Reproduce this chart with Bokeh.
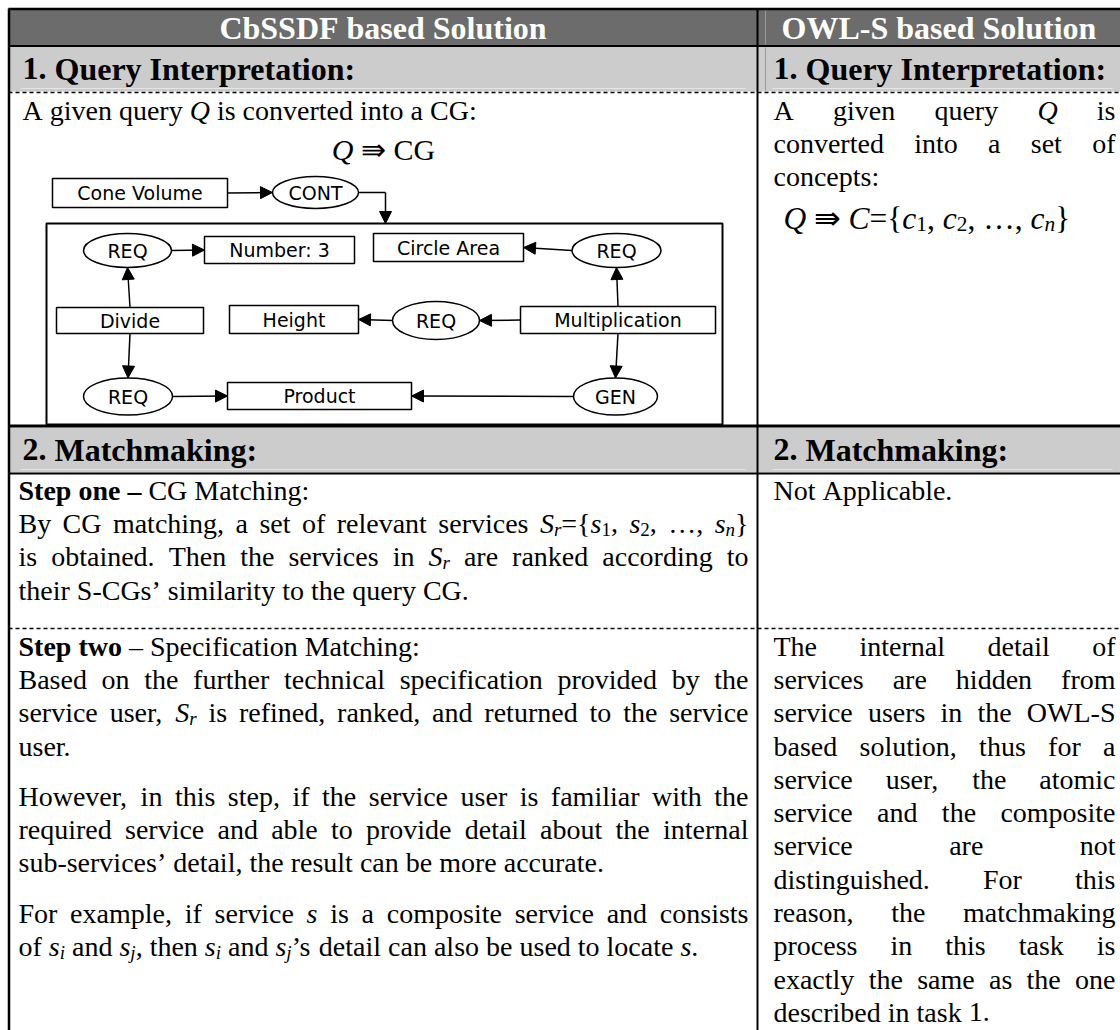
import re
from bokeh.plotting import figure
from bokeh.models import Range1d, ColumnDataSource, Arrow, NormalHead
from bokeh.core.properties import value
from bokeh.embed import file_html
from bokeh.resources import INLINE

# ---------------- content ----------------
COLUMN_TITLES = ["CbSSDF based Solution", "OWL-S based Solution"]
SECTION_TITLES = ["1. Query Interpretation:", "2. Matchmaking:"]

QUERY_LEFT = [("A given query <i>Q</i> is converted into a CG:", False)]
QUERY_LEFT_EQ = "<i>Q</i> ⇛ CG"
QUERY_RIGHT = [("A given query <i>Q</i> is", True),
               ("converted into a set of", True),
               ("concepts:", False)]
QUERY_RIGHT_EQ = "<i>Q</i> ⇛ <i>C</i>={<i>c</i><s>1</s>, <i>c</i><s>2</s>, …, <i>c</i><is>n</is>}"

STEP_ONE = [("<b>Step one –</b> CG Matching:", False),
            ("By CG matching, a set of relevant services <i>S</i><is>r</is>={<i>s</i><s>1</s>, <i>s</i><s>2</s>, …, <i>s</i><is>n</is>}", True),
            ("is obtained. Then the services in <i>S</i><is>r</is> are ranked according to", True),
            ("their S-CGs’ similarity to the query CG.", False)]
STEP_ONE_RIGHT = [("Not Applicable.", False)]

STEP_TWO = [("<b>Step two</b> – Specification Matching:", False),
            ("Based on the further technical specification provided by the", True),
            ("service user, <i>S</i><is>r</is> is refined, ranked, and returned to the service", True),
            ("user.", False),
            None,
            ("However, in this step, if the service user is familiar with the", True),
            ("required service and able to provide detail about the internal", True),
            ("sub-services’ detail, the result can be more accurate.", False),
            None,
            ("For example, if service <i>s</i> is a composite service and consists", True),
            ("of <i>s</i><is>i</is> and <i>s</i><is>j</is>, then <i>s</i><is>i</is> and <i>s</i><is>j</is>’s detail can also be used to locate <i>s</i>.", False)]
STEP_TWO_RIGHT = [("The internal detail of", True),
                  ("services are hidden from", True),
                  ("service users in the OWL-S", True),
                  ("based solution, thus for a", True),
                  ("service user, the atomic", True),
                  ("service and the composite", True),
                  ("service are not", True),
                  ("distinguished. For this", True),
                  ("reason, the matchmaking", True),
                  ("process in this task is", True),
                  ("exactly the same as the one", True),
                  ("described in task 1.", False)]

# conceptual graph
BOX_LABELS = ["Cone Volume", "Number: 3", "Circle Area", "Divide", "Height", "Multiplication", "Product"]
OVAL_LABELS = ["CONT", "REQ", "REQ", "REQ", "REQ", "GEN"]
EDGES = [("B0", "E0"), ("E1", "B1"), ("E2", "B2"), ("B3", "E1"), ("B5", "E2"),
         ("B5", "E3"), ("E3", "B4"), ("B3", "E4"), ("B5", "E5"), ("E4", "B6"), ("E5", "B6")]

# ---------------- layout (pixel geometry) ----------------
BOX_GEOM = [(139.5, 192.5, 175, 29), (279, 249.5, 150, 27), (448, 247, 150, 28),
            (129.5, 320, 147, 26), (293.5, 319, 129, 28), (617.5, 319.5, 195, 27),
            (319, 395.5, 184, 27)]
OVAL_GEOM = [(315, 192, 86, 32), (127, 250, 88, 34), (616, 250, 89, 34),
             (435.5, 320, 87, 38), (127.5, 396, 89, 37), (615, 396, 84, 37)]

# Times metrics (1/1000 em)
REG = {' ': 250, ',': 250, '-': 333, '.': 250, ':': 278, '=': 564, '{': 480, '}': 480,
       '’': 333, '–': 500, '…': 1000, '⇛': 838, '1': 500, '2': 500, '3': 500,
       'A': 722, 'B': 667, 'C': 667, 'D': 722, 'F': 556, 'G': 722, 'H': 722, 'L': 611,
       'N': 722, 'O': 722, 'Q': 722, 'S': 556, 'T': 611, 'W': 944,
       'a': 444, 'b': 500, 'c': 444, 'd': 500, 'e': 444, 'f': 333, 'g': 500, 'h': 500,
       'i': 278, 'j': 278, 'k': 500, 'l': 278, 'm': 778, 'n': 500, 'o': 500, 'p': 500,
       'q': 500, 'r': 333, 's': 389, 't': 278, 'u': 500, 'v': 500, 'w': 722, 'x': 500,
       'y': 500, 'z': 444}
BOLD = {' ': 250, '.': 250, ':': 333, '-': 333, '–': 500, '1': 500, '2': 500,
        'C': 722, 'D': 722, 'F': 611, 'I': 389, 'L': 667, 'M': 944, 'O': 778, 'Q': 778,
        'S': 556, 'W': 1000, 'a': 500, 'b': 556, 'c': 444, 'd': 556, 'e': 444, 'g': 500,
        'h': 556, 'i': 278, 'k': 556, 'l': 278, 'm': 833, 'n': 556, 'o': 500, 'p': 556,
        'r': 444, 's': 389, 't': 333, 'u': 556, 'w': 722, 'y': 500}
ITAL = {'Q': 722, 'S': 500, 'C': 667, 's': 389, 'c': 444, 'n': 500, 'i': 278, 'j': 278, 'r': 389}

SERIF = "Liberation Serif"
BODY = 28
HEAD = 32
EQ = 30
EQ_R = 31.5
LH = 33.3
GAP = 17
BASE_SHIFT = 0.3   # empirical: rendered baseline sits this fraction of size below y

TAG = re.compile(r"<(is|i|b|s)>(.*?)</\1>")


def parse(markup):
    runs, pos = [], 0
    for m in TAG.finditer(markup):
        if m.start() > pos:
            runs.append((markup[pos:m.start()], 'r'))
        runs.append((m.group(2), m.group(1)))
        pos = m.end()
    if pos < len(markup):
        runs.append((markup[pos:], 'r'))
    items = []
    for text, st in runs:
        for part in re.split(r"( )", text):
            if part:
                items.append((part, st))
    return items


def width(text, st, size):
    if st == 'b':
        tab = BOLD
    elif st in ('i', 'is'):
        tab = ITAL
    else:
        tab = REG
    scale = 0.68 if st in ('s', 'is') else 1.0
    return sum(tab.get(ch, REG.get(ch, 500)) for ch in text) * size * scale / 1000.0


T = dict(x=[], y=[], text=[], fs=[], fst=[], col=[])


def put_line(markup, x, y, size, color="black", justify_to=None, center=False, bold=False):
    items = parse(markup)
    if bold:
        items = [(t, 'b') for t, _ in items]
    ws = [width(t, st, size) for t, st in items]
    natural = sum(ws)
    nsp = sum(1 for t, _ in items if t == " ")
    extra = (justify_to - natural) / nsp if (justify_to and nsp) else 0.0
    if center:
        x = x - natural / 2
    y = y - BASE_SHIFT * size
    for (t, st), w in zip(items, ws):
        if t == " ":
            x += w + extra
            continue
        sub = st in ('s', 'is')
        T['x'].append(x)
        T['y'].append(y + (size * 0.2 if sub else 0))
        T['text'].append(t)
        T['fs'].append("%.1fpx" % (size * 0.68 if sub else size))
        T['fst'].append({'r': 'normal', 's': 'normal', 'i': 'italic', 'is': 'italic', 'b': 'bold'}[st])
        T['col'].append(color)
        x += w


def put_block(lines, xl, xr, y0, size, lh, gap):
    y = y0
    for ln in lines:
        if ln is None:
            y += gap
            continue
        markup, just = ln
        put_line(markup, xl, y, size, justify_to=(xr - xl) if just else None)
        y += lh


# ---------------- figure ----------------
p = figure(width=1120, height=1030, x_range=Range1d(0, 1120), y_range=Range1d(1030, 0),
           toolbar_location=None, output_backend="svg", min_border=0,
           x_axis_location=None, y_axis_location=None)
p.xgrid.visible = False
p.ygrid.visible = False
p.outline_line_color = None
p.background_fill_color = "white"
p.border_fill_color = "white"

# cell shading
p.quad(left=[9, 9, 9], right=[1120, 1120, 1120], top=[9, 46, 427], bottom=[45, 91, 472],
       fill_color=["#6c6c6c", "#cccccc", "#cccccc"], line_color=None)
p.segment(x0=[20, 772, 20, 772], y0=[88, 88, 469, 469], x1=[745, 1112, 745, 1112], y1=[88, 88, 469, 469],
          line_color="#e4e4e4", line_width=1)
p.segment(x0=[765, 765], y0=[10, 47], x1=[765, 765], y1=[44, 90], line_color="#9a9a9a", line_width=1)

# conceptual graph
nodes = {}
for i, (cx, cy, w, h) in enumerate(BOX_GEOM):
    nodes["B%d" % i] = (cx, cy, w, h)
for i, (cx, cy, w, h) in enumerate(OVAL_GEOM):
    nodes["E%d" % i] = (cx, cy, w, h)

p.quad(left=[46], right=[722], top=[223], bottom=[424], fill_color=None, line_color="black", line_width=2)

# connector CONT -> big box
cx, cy, w, h = OVAL_GEOM[0]
p.line(x=[cx + w / 2, 385], y=[cy, cy], line_color="black", line_width=1.5)

ax0, ay0, ax1, ay1 = [385], [cy], [385], [223]
for a, b in EDGES:
    A, B = nodes[a], nodes[b]
    if abs(B[0] - A[0]) > abs(B[1] - A[1]):
        s = 1 if B[0] > A[0] else -1
        ax0.append(A[0] + s * A[2] / 2); ay0.append(A[1])
        ax1.append(B[0] - s * B[2] / 2); ay1.append(B[1])
    else:
        s = 1 if B[1] > A[1] else -1
        ax0.append(A[0]); ay0.append(A[1] + s * A[3] / 2)
        ax1.append(B[0]); ay1.append(B[1] - s * B[3] / 2)
asrc = ColumnDataSource(dict(x0=ax0, y0=ay0, x1=ax1, y1=ay1))
p.add_layout(Arrow(end=NormalHead(size=12, fill_color="black", line_color="black"),
                   x_start="x0", y_start="y0", x_end="x1", y_end="y1",
                   source=asrc, line_color="black", line_width=1.5))

bsrc = ColumnDataSource(dict(
    l=[g[0] - g[2] / 2 for g in BOX_GEOM], r=[g[0] + g[2] / 2 for g in BOX_GEOM],
    t=[g[1] - g[3] / 2 for g in BOX_GEOM], b=[g[1] + g[3] / 2 for g in BOX_GEOM],
    x=[g[0] for g in BOX_GEOM], y=[g[1] for g in BOX_GEOM], label=BOX_LABELS))
p.quad(left="l", right="r", top="t", bottom="b", source=bsrc,
       fill_color="white", line_color="black", line_width=1.5)
esrc = ColumnDataSource(dict(
    x=[g[0] for g in OVAL_GEOM], y=[g[1] for g in OVAL_GEOM],
    w=[g[2] for g in OVAL_GEOM], h=[g[3] for g in OVAL_GEOM], label=OVAL_LABELS))
p.ellipse(x="x", y="y", width="w", height="h", source=esrc,
          fill_color="white", line_color="black", line_width=1.5)
for src in (bsrc, esrc):
    p.text(x="x", y="y", text="label", source=src, text_font=value("DejaVu Sans"),
           text_font_size="19px", text_align="center", text_baseline="middle", text_color="black")

# table rules
p.segment(x0=[8, 8, 8, 8, 8.5, 757], y0=[8.5, 45.5, 425.5, 473, 8, 8],
          x1=[1120, 1120, 1120, 1120, 8.5, 757], y1=[8.5, 45.5, 425.5, 473, 1030, 1030],
          line_color="black", line_width=[2.5, 2, 3, 2, 2.5, 2])
p.segment(x0=[8, 8], y0=[92, 628], x1=[1120, 1120], y1=[92, 628],
          line_color="black", line_width=1.5, line_dash="4 3")

# ---------------- texts ----------------
put_line(COLUMN_TITLES[0], 382.5, 37, HEAD, color="white", center=True, bold=True)
put_line(COLUMN_TITLES[1], 938.5, 37, HEAD, color="white", center=True, bold=True)
put_line(SECTION_TITLES[0], 22, 78, HEAD, bold=True)
put_line(SECTION_TITLES[0], 773, 78, HEAD, bold=True)
put_line(SECTION_TITLES[1], 22, 459, HEAD, bold=True)
put_line(SECTION_TITLES[1], 773, 459, HEAD, bold=True)

put_block(QUERY_LEFT, 22, 748, 118, BODY, LH, GAP)
put_line(QUERY_LEFT_EQ, 383, 158, EQ, center=True)
put_block(QUERY_RIGHT, 773, 1115, 118, BODY, LH, GAP)
put_line(QUERY_RIGHT_EQ, 783, 227, EQ_R)

put_block(STEP_ONE, 18, 748, 498, BODY, LH, GAP)
put_block(STEP_ONE_RIGHT, 773, 1115, 498, BODY, LH, GAP)
put_block(STEP_TWO, 18, 748, 654, BODY, LH, GAP)
put_block(STEP_TWO_RIGHT, 773, 1115, 654, BODY, LH, GAP)

tsrc = ColumnDataSource(T)
p.text(x="x", y="y", text="text", source=tsrc, text_font=value(SERIF),
       text_font_size="fs", text_font_style="fst", text_color="col",
       text_align="left", text_baseline="alphabetic")

open("out.html", "w").write(file_html(p, INLINE))
